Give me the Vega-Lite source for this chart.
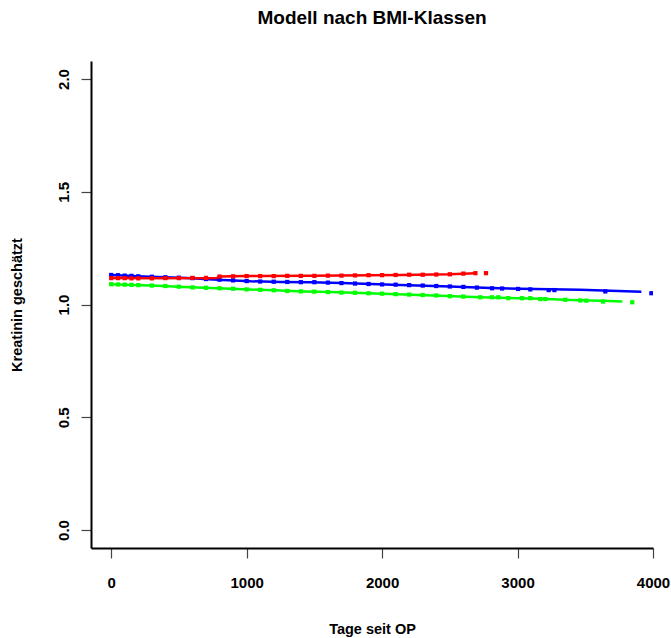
{
  "$schema": "https://vega.github.io/schema/vega-lite/v6.json",
  "width": 562,
  "height": 487,
  "autosize": {"type": "none"},
  "padding": {"left": 91, "top": 61, "right": 18, "bottom": 90},
  "background": "white",
  "title": {
    "text": "Modell nach BMI-Klassen",
    "font": "Liberation Sans",
    "fontSize": 19,
    "fontWeight": "bold",
    "color": "black",
    "anchor": "middle",
    "offset": 33
  },
  "config": {
    "view": {"stroke": null},
    "axis": {
      "grid": false,
      "domainColor": "black",
      "domainWidth": 2,
      "tickColor": "#444444",
      "tickWidth": 1.2,
      "tickSize": 10,
      "labelFont": "Liberation Sans",
      "labelFontWeight": "bold",
      "labelFontSize": 15,
      "labelColor": "black",
      "titleFont": "Liberation Sans",
      "titleFontWeight": "bold",
      "titleFontSize": 14.5,
      "titleColor": "black"
    }
  },
  "datasets": {
    "kurve": [
      {"tage": 0, "krea": 1.131, "bmi": "Klasse 1"},
      {"tage": 240, "krea": 1.124, "bmi": "Klasse 1"},
      {"tage": 560, "krea": 1.118, "bmi": "Klasse 1"},
      {"tage": 785, "krea": 1.110, "bmi": "Klasse 1"},
      {"tage": 1030, "krea": 1.103, "bmi": "Klasse 1"},
      {"tage": 1250, "krea": 1.100, "bmi": "Klasse 1"},
      {"tage": 1470, "krea": 1.099, "bmi": "Klasse 1"},
      {"tage": 1700, "krea": 1.095, "bmi": "Klasse 1"},
      {"tage": 2135, "krea": 1.087, "bmi": "Klasse 1"},
      {"tage": 2500, "krea": 1.080, "bmi": "Klasse 1"},
      {"tage": 2800, "krea": 1.073, "bmi": "Klasse 1"},
      {"tage": 3020, "krea": 1.070, "bmi": "Klasse 1"},
      {"tage": 3460, "krea": 1.065, "bmi": "Klasse 1"},
      {"tage": 3914, "krea": 1.057, "bmi": "Klasse 1"},
      {"tage": 0, "krea": 1.117, "bmi": "Klasse 2"},
      {"tage": 300, "krea": 1.116, "bmi": "Klasse 2"},
      {"tage": 780, "krea": 1.118, "bmi": "Klasse 2"},
      {"tage": 800, "krea": 1.124, "bmi": "Klasse 2"},
      {"tage": 1000, "krea": 1.126, "bmi": "Klasse 2"},
      {"tage": 1470, "krea": 1.127, "bmi": "Klasse 2"},
      {"tage": 2135, "krea": 1.131, "bmi": "Klasse 2"},
      {"tage": 2500, "krea": 1.134, "bmi": "Klasse 2"},
      {"tage": 2689, "krea": 1.139, "bmi": "Klasse 2"},
      {"tage": 0, "krea": 1.090, "bmi": "Klasse 3"},
      {"tage": 340, "krea": 1.083, "bmi": "Klasse 3"},
      {"tage": 535, "krea": 1.078, "bmi": "Klasse 3"},
      {"tage": 785, "krea": 1.072, "bmi": "Klasse 3"},
      {"tage": 976, "krea": 1.068, "bmi": "Klasse 3"},
      {"tage": 1200, "krea": 1.063, "bmi": "Klasse 3"},
      {"tage": 1420, "krea": 1.058, "bmi": "Klasse 3"},
      {"tage": 1620, "krea": 1.055, "bmi": "Klasse 3"},
      {"tage": 2060, "krea": 1.047, "bmi": "Klasse 3"},
      {"tage": 2430, "krea": 1.039, "bmi": "Klasse 3"},
      {"tage": 2725, "krea": 1.032, "bmi": "Klasse 3"},
      {"tage": 3170, "krea": 1.025, "bmi": "Klasse 3"},
      {"tage": 3390, "krea": 1.020, "bmi": "Klasse 3"},
      {"tage": 3685, "krea": 1.015, "bmi": "Klasse 3"},
      {"tage": 3774, "krea": 1.013, "bmi": "Klasse 3"}
    ],
    "punkte": [
      {"tage": 0, "krea": 1.131, "bmi": "Klasse 1"},
      {"tage": 50, "krea": 1.130, "bmi": "Klasse 1"},
      {"tage": 100, "krea": 1.128, "bmi": "Klasse 1"},
      {"tage": 150, "krea": 1.127, "bmi": "Klasse 1"},
      {"tage": 200, "krea": 1.125, "bmi": "Klasse 1"},
      {"tage": 300, "krea": 1.123, "bmi": "Klasse 1"},
      {"tage": 400, "krea": 1.121, "bmi": "Klasse 1"},
      {"tage": 500, "krea": 1.119, "bmi": "Klasse 1"},
      {"tage": 600, "krea": 1.117, "bmi": "Klasse 1"},
      {"tage": 700, "krea": 1.113, "bmi": "Klasse 1"},
      {"tage": 800, "krea": 1.110, "bmi": "Klasse 1"},
      {"tage": 900, "krea": 1.107, "bmi": "Klasse 1"},
      {"tage": 1000, "krea": 1.104, "bmi": "Klasse 1"},
      {"tage": 1100, "krea": 1.102, "bmi": "Klasse 1"},
      {"tage": 1200, "krea": 1.101, "bmi": "Klasse 1"},
      {"tage": 1300, "krea": 1.100, "bmi": "Klasse 1"},
      {"tage": 1400, "krea": 1.099, "bmi": "Klasse 1"},
      {"tage": 1500, "krea": 1.099, "bmi": "Klasse 1"},
      {"tage": 1600, "krea": 1.097, "bmi": "Klasse 1"},
      {"tage": 1700, "krea": 1.095, "bmi": "Klasse 1"},
      {"tage": 1800, "krea": 1.093, "bmi": "Klasse 1"},
      {"tage": 1900, "krea": 1.091, "bmi": "Klasse 1"},
      {"tage": 2000, "krea": 1.089, "bmi": "Klasse 1"},
      {"tage": 2100, "krea": 1.088, "bmi": "Klasse 1"},
      {"tage": 2200, "krea": 1.086, "bmi": "Klasse 1"},
      {"tage": 2300, "krea": 1.084, "bmi": "Klasse 1"},
      {"tage": 2400, "krea": 1.082, "bmi": "Klasse 1"},
      {"tage": 2500, "krea": 1.080, "bmi": "Klasse 1"},
      {"tage": 2600, "krea": 1.078, "bmi": "Klasse 1"},
      {"tage": 2700, "krea": 1.075, "bmi": "Klasse 1"},
      {"tage": 2812, "krea": 1.072, "bmi": "Klasse 1"},
      {"tage": 2886, "krea": 1.071, "bmi": "Klasse 1"},
      {"tage": 3004, "krea": 1.069, "bmi": "Klasse 1"},
      {"tage": 3094, "krea": 1.067, "bmi": "Klasse 1"},
      {"tage": 3230, "krea": 1.064, "bmi": "Klasse 1"},
      {"tage": 3272, "krea": 1.064, "bmi": "Klasse 1"},
      {"tage": 3648, "krea": 1.058, "bmi": "Klasse 1"},
      {"tage": 3988, "krea": 1.050, "bmi": "Klasse 1"},
      {"tage": 0, "krea": 1.117, "bmi": "Klasse 2"},
      {"tage": 50, "krea": 1.117, "bmi": "Klasse 2"},
      {"tage": 100, "krea": 1.117, "bmi": "Klasse 2"},
      {"tage": 150, "krea": 1.116, "bmi": "Klasse 2"},
      {"tage": 200, "krea": 1.116, "bmi": "Klasse 2"},
      {"tage": 300, "krea": 1.116, "bmi": "Klasse 2"},
      {"tage": 400, "krea": 1.117, "bmi": "Klasse 2"},
      {"tage": 500, "krea": 1.117, "bmi": "Klasse 2"},
      {"tage": 600, "krea": 1.118, "bmi": "Klasse 2"},
      {"tage": 700, "krea": 1.118, "bmi": "Klasse 2"},
      {"tage": 800, "krea": 1.124, "bmi": "Klasse 2"},
      {"tage": 900, "krea": 1.125, "bmi": "Klasse 2"},
      {"tage": 1000, "krea": 1.126, "bmi": "Klasse 2"},
      {"tage": 1100, "krea": 1.126, "bmi": "Klasse 2"},
      {"tage": 1200, "krea": 1.126, "bmi": "Klasse 2"},
      {"tage": 1300, "krea": 1.127, "bmi": "Klasse 2"},
      {"tage": 1400, "krea": 1.127, "bmi": "Klasse 2"},
      {"tage": 1500, "krea": 1.127, "bmi": "Klasse 2"},
      {"tage": 1600, "krea": 1.128, "bmi": "Klasse 2"},
      {"tage": 1700, "krea": 1.128, "bmi": "Klasse 2"},
      {"tage": 1800, "krea": 1.129, "bmi": "Klasse 2"},
      {"tage": 1900, "krea": 1.130, "bmi": "Klasse 2"},
      {"tage": 2000, "krea": 1.130, "bmi": "Klasse 2"},
      {"tage": 2100, "krea": 1.131, "bmi": "Klasse 2"},
      {"tage": 2200, "krea": 1.132, "bmi": "Klasse 2"},
      {"tage": 2300, "krea": 1.132, "bmi": "Klasse 2"},
      {"tage": 2400, "krea": 1.133, "bmi": "Klasse 2"},
      {"tage": 2500, "krea": 1.134, "bmi": "Klasse 2"},
      {"tage": 2600, "krea": 1.137, "bmi": "Klasse 2"},
      {"tage": 2689, "krea": 1.139, "bmi": "Klasse 2"},
      {"tage": 2767, "krea": 1.139, "bmi": "Klasse 2"},
      {"tage": 0, "krea": 1.090, "bmi": "Klasse 3"},
      {"tage": 50, "krea": 1.089, "bmi": "Klasse 3"},
      {"tage": 100, "krea": 1.088, "bmi": "Klasse 3"},
      {"tage": 150, "krea": 1.087, "bmi": "Klasse 3"},
      {"tage": 200, "krea": 1.086, "bmi": "Klasse 3"},
      {"tage": 300, "krea": 1.084, "bmi": "Klasse 3"},
      {"tage": 400, "krea": 1.082, "bmi": "Klasse 3"},
      {"tage": 500, "krea": 1.079, "bmi": "Klasse 3"},
      {"tage": 600, "krea": 1.076, "bmi": "Klasse 3"},
      {"tage": 700, "krea": 1.074, "bmi": "Klasse 3"},
      {"tage": 800, "krea": 1.072, "bmi": "Klasse 3"},
      {"tage": 900, "krea": 1.070, "bmi": "Klasse 3"},
      {"tage": 1000, "krea": 1.067, "bmi": "Klasse 3"},
      {"tage": 1100, "krea": 1.065, "bmi": "Klasse 3"},
      {"tage": 1200, "krea": 1.063, "bmi": "Klasse 3"},
      {"tage": 1300, "krea": 1.060, "bmi": "Klasse 3"},
      {"tage": 1400, "krea": 1.058, "bmi": "Klasse 3"},
      {"tage": 1500, "krea": 1.057, "bmi": "Klasse 3"},
      {"tage": 1600, "krea": 1.055, "bmi": "Klasse 3"},
      {"tage": 1700, "krea": 1.053, "bmi": "Klasse 3"},
      {"tage": 1800, "krea": 1.052, "bmi": "Klasse 3"},
      {"tage": 1900, "krea": 1.050, "bmi": "Klasse 3"},
      {"tage": 2000, "krea": 1.048, "bmi": "Klasse 3"},
      {"tage": 2100, "krea": 1.046, "bmi": "Klasse 3"},
      {"tage": 2200, "krea": 1.044, "bmi": "Klasse 3"},
      {"tage": 2300, "krea": 1.042, "bmi": "Klasse 3"},
      {"tage": 2400, "krea": 1.040, "bmi": "Klasse 3"},
      {"tage": 2500, "krea": 1.037, "bmi": "Klasse 3"},
      {"tage": 2600, "krea": 1.035, "bmi": "Klasse 3"},
      {"tage": 2725, "krea": 1.032, "bmi": "Klasse 3"},
      {"tage": 2812, "krea": 1.032, "bmi": "Klasse 3"},
      {"tage": 2858, "krea": 1.032, "bmi": "Klasse 3"},
      {"tage": 2932, "krea": 1.028, "bmi": "Klasse 3"},
      {"tage": 3033, "krea": 1.028, "bmi": "Klasse 3"},
      {"tage": 3094, "krea": 1.028, "bmi": "Klasse 3"},
      {"tage": 3168, "krea": 1.024, "bmi": "Klasse 3"},
      {"tage": 3205, "krea": 1.024, "bmi": "Klasse 3"},
      {"tage": 3353, "krea": 1.021, "bmi": "Klasse 3"},
      {"tage": 3463, "krea": 1.018, "bmi": "Klasse 3"},
      {"tage": 3508, "krea": 1.017, "bmi": "Klasse 3"},
      {"tage": 3631, "krea": 1.013, "bmi": "Klasse 3"},
      {"tage": 3847, "krea": 1.010, "bmi": "Klasse 3"}
    ]
  },
  "encoding": {
    "x": {
      "field": "tage",
      "type": "quantitative",
      "scale": {"domain": [-149, 4000], "nice": false, "zero": false},
      "axis": {
        "title": "Tage seit OP",
        "values": [0, 1000, 2000, 3000, 4000],
        "format": "d",
        "labelPadding": 17,
        "labelFlush": false,
        "labelOverlap": false,
        "titlePadding": 32
      }
    },
    "y": {
      "field": "krea",
      "type": "quantitative",
      "scale": {"domain": [-0.08, 2.08], "nice": false, "zero": false},
      "axis": {
        "title": "Kreatinin geschätzt",
        "values": [0, 0.5, 1, 1.5, 2],
        "format": ".1f",
        "labelAngle": -90,
        "labelAlign": "center",
        "labelBaseline": "alphabetic",
        "labelPadding": 13,
        "labelFlush": false,
        "labelOverlap": false,
        "titlePadding": 32
      }
    },
    "color": {
      "field": "bmi",
      "type": "nominal",
      "scale": {"domain": ["Klasse 1", "Klasse 2", "Klasse 3"], "range": ["#0000FF", "#FF0000", "#00FF00"]},
      "legend": null
    }
  },
  "layer": [
    {
      "data": {"name": "kurve"},
      "mark": {"type": "line", "strokeWidth": 2.5, "clip": true}
    },
    {
      "data": {"name": "punkte"},
      "mark": {"type": "square", "filled": true, "opacity": 1, "size": 18, "clip": true}
    }
  ]
}
